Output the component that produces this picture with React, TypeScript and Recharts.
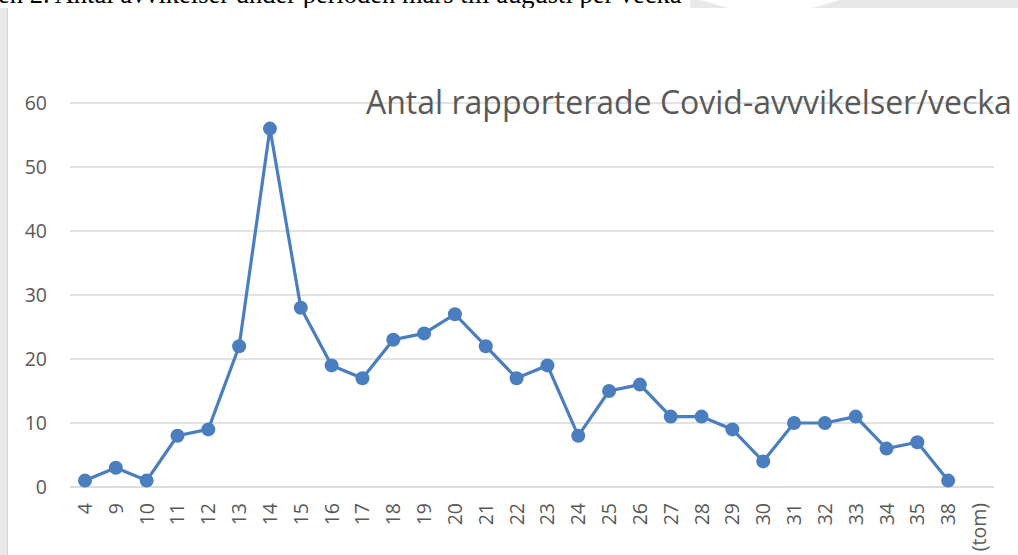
import React from 'react';
import { LineChart, Line, XAxis, YAxis, CartesianGrid } from 'recharts';

const weeks = ['4', '9', '10', '11', '12', '13', '14', '15', '16', '17', '18', '19', '20', '21', '22', '23', '24', '25', '26', '27', '28', '29', '30', '31', '32', '33', '34', '35', '38', '(tom)'];
const counts: (number | null)[] = [1, 3, 1, 8, 9, 22, 56, 28, 19, 17, 23, 24, 27, 22, 17, 19, 8, 15, 16, 11, 11, 9, 4, 10, 10, 11, 6, 7, 1, null];
const yTicks = [0, 10, 20, 30, 40, 50, 60];
const chartTitle = 'Antal rapporterade Covid-avvvikelser/vecka';
const captionText = 'en 2. Antal avvikelser under perioden mars till augusti per vecka';

const data = weeks.map((w, i) => ({ week: w, count: counts[i] }));

const FONT = '"Open Sans", sans-serif';
const GRAY_TEXT = '#595959';
const LINE_COLOR = '#4a7ebf';

const XTick = (props: any) => {
  const { x, y, payload } = props;
  return (
    <text
      x={x}
      y={y}
      transform={`rotate(-90 ${x} ${y})`}
      textAnchor="end"
      dy="0.36em"
      fontFamily={FONT}
      fontSize={19.5}
      fill={GRAY_TEXT}
    >
      {payload.value}
    </text>
  );
};

const YTick = (props: any) => {
  const { x, y, payload } = props;
  return (
    <text x={x} y={y} textAnchor="end" dy="0.36em" fontFamily={FONT} fontSize={19.5} fill={GRAY_TEXT}>
      {payload.value}
    </text>
  );
};

export default function App() {
  return (
    <div style={{ position: 'absolute', left: 0, top: 0, width: 1018, height: 555, overflow: 'hidden', background: '#e8e8e8' }}>
      {/* top strip */}
      <div style={{ position: 'absolute', left: 0, top: 0, width: 690, height: 8, background: '#ffffff' }} />
      <div style={{ position: 'absolute', left: 700, top: 0, width: 140, height: 8, background: '#ffffff', clipPath: 'polygon(0 0, 100% 0, 80% 100%, 20% 100%)' }} />
      <div
        style={{
          position: 'absolute',
          left: -2,
          top: -21,
          fontFamily: '"Liberation Serif", serif',
          fontSize: 26.5,
          lineHeight: '30px',
          color: '#000',
          whiteSpace: 'nowrap',
        }}
      >
        {captionText}
      </div>
      {/* white page */}
      <div style={{ position: 'absolute', left: 7, top: 8, width: 1011, height: 547, background: '#ffffff', borderLeft: '1px solid #d6d6d6' }} />
      <div style={{ position: 'absolute', left: 0, top: 0 }}>
        <LineChart width={1018} height={555} data={data} margin={{ top: 103, right: 24, bottom: 0, left: 0 }}>
          <CartesianGrid vertical={false} stroke="#d9d9d9" strokeWidth={1.5} />
          <XAxis
            dataKey="week"
            height={68}
            interval={0}
            padding={{ left: 15, right: 15 }}
            tickSize={0}
            tickMargin={16}
            tickLine={false}
            axisLine={{ stroke: '#d9d9d9', strokeWidth: 1.5 }}
            tick={<XTick />}
          />
          <YAxis
            width={70}
            domain={[0, 60]}
            ticks={yTicks}
            interval={0}
            tickSize={0}
            tickMargin={23}
            tickLine={false}
            axisLine={false}
            tick={<YTick />}
          />
          <Line
            type="linear"
            dataKey="count"
            stroke={LINE_COLOR}
            strokeWidth={3.2}
            dot={{ r: 7, fill: LINE_COLOR, stroke: LINE_COLOR, strokeWidth: 0 }}
            activeDot={false}
            isAnimationActive={false}
          />
        </LineChart>
      </div>
      <div
        style={{
          position: 'absolute',
          left: 366,
          top: 80,
          fontFamily: FONT,
          fontSize: 32,
          lineHeight: '44px',
          color: GRAY_TEXT,
          whiteSpace: 'nowrap',
        }}
      >
        {chartTitle}
      </div>
    </div>
  );
}
